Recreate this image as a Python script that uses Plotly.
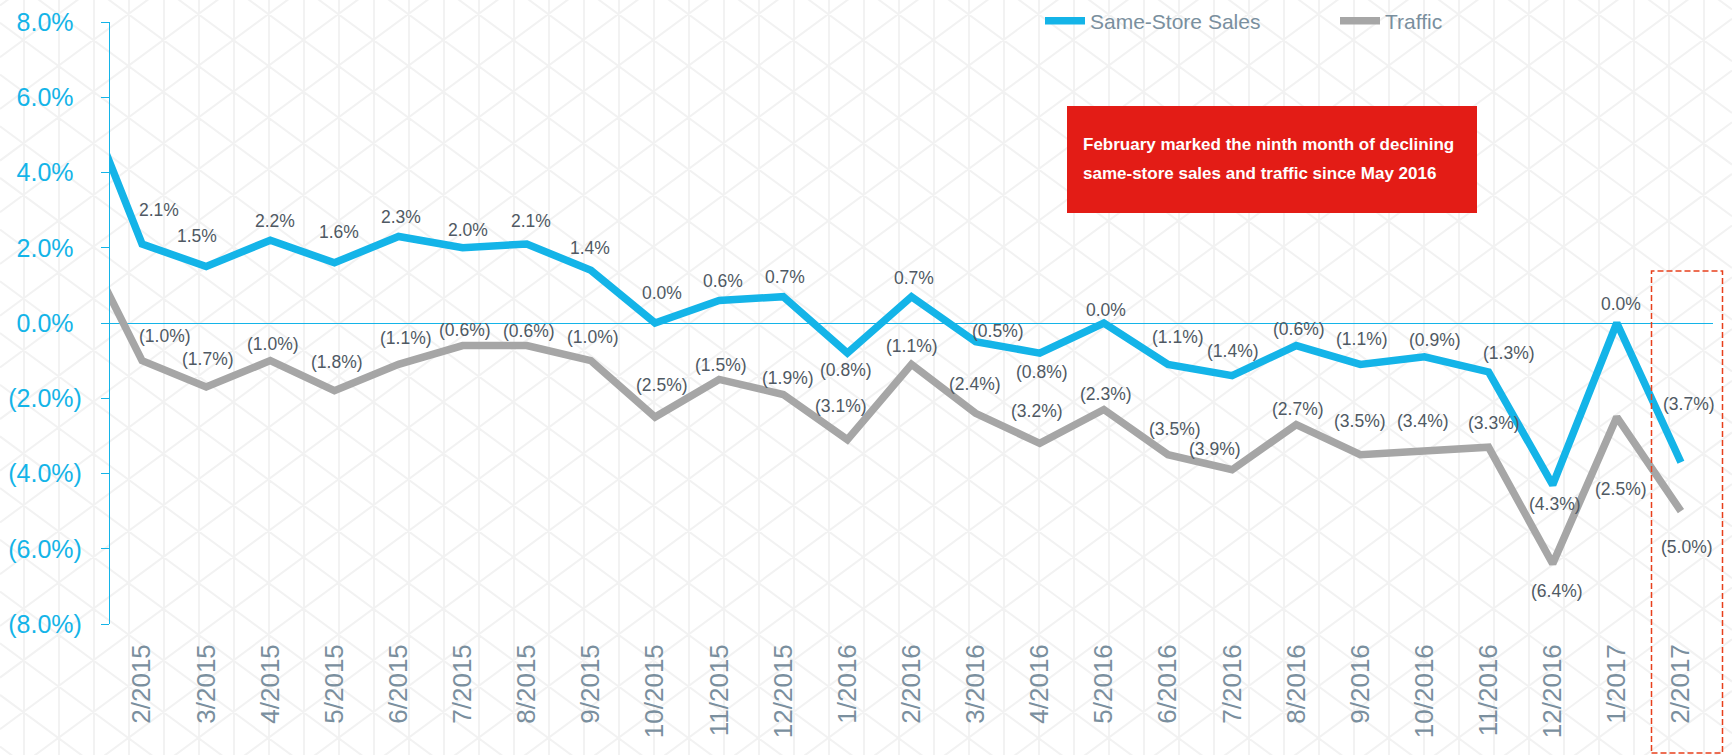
import plotly.graph_objects as go

# ---------------- data ----------------
months = ["1/2015", "2/2015", "3/2015", "4/2015", "5/2015", "6/2015", "7/2015", "8/2015",
          "9/2015", "10/2015", "11/2015", "12/2015", "1/2016", "2/2016", "3/2016", "4/2016",
          "5/2016", "6/2016", "7/2016", "8/2016", "9/2016", "10/2016", "11/2016", "12/2016",
          "1/2017", "2/2017"]
same_store_sales = [6.4, 2.1, 1.5, 2.2, 1.6, 2.3, 2.0, 2.1, 1.4, 0.0, 0.6, 0.7, -0.8, 0.7,
                    -0.5, -0.8, 0.0, -1.1, -1.4, -0.6, -1.1, -0.9, -1.3, -4.3, 0.0, -3.7]
traffic = [2.4, -1.0, -1.7, -1.0, -1.8, -1.1, -0.6, -0.6, -1.0, -2.5, -1.5, -1.9, -3.1, -1.1,
           -2.4, -3.2, -2.3, -3.5, -3.9, -2.7, -3.5, -3.4, -3.3, -6.4, -2.5, -5.0]
y_ticks = [8, 6, 4, 2, 0, -2, -4, -6, -8]
note_lines = ["February marked the ninth month of declining",
              "same-store sales and traffic since May 2016"]

# label offsets in pixels (for months 2/2015 .. 2/2017)
sales_dx = [17, -9, 5, 5, 2, 5, 4, -1, 7, 4, 2, -1, 2, 22, 2, 2, 10, 1, 3, 2, 11, 20, 2, 4, 8]
sales_dy = [31, 28, 16, 28, 16, 15, 20, 19, 27, 16, 17, -20, 16, 8, -22, 10, 24, 22, 14, 22, 14, 16, -22, 16, 55]
traf_dx = [23, 2, 3, 3, 7, 2, 2, 2, 7, 2, 5, -6, 0, -1, -3, 2, 7, -17, 2, 0, -1, 5, 4, 4, 6]
traf_dy = [22, 25, 14, 26, 23, 13, 12, 21, 29, 11, 13, 31, 15, 26, 29, 13, 23, 18, 13, 31, 27, 21, -30, -75, -39]

BLUE = "#14b4e8"
GRAY = "#a6a6a6"
LABEL = "#4f5963"
SLATE = "#7a8f9e"
FONT = "Liberation Sans, Arial, sans-serif"

W, H = 1732, 755
ML, MR, MT, MB = 110, 19, 22, 131
PW, PH = W - ML - MR, H - MT - MB


def fmt(v):
    if v < 0:
        return "(%.1f%%)" % abs(v)
    return "%.1f%%" % v


def px(x, y):
    return (x - ML) / PW, (H - MB - y) / PH


fig = go.Figure()
fig.add_trace(go.Scatter(x=months, y=same_store_sales, mode="lines", name="Same-Store Sales",
                         line=dict(color=BLUE, width=7.5), hoverinfo="skip"))
fig.add_trace(go.Scatter(x=months, y=traffic, mode="lines", name="Traffic",
                         line=dict(color=GRAY, width=7.5), hoverinfo="skip"))

annotations = []
for i in range(1, len(months)):
    annotations.append(dict(x=months[i], y=same_store_sales[i], text=fmt(same_store_sales[i]),
                            xref="x", yref="y", showarrow=False,
                            xshift=sales_dx[i - 1], yshift=sales_dy[i - 1] + 3,
                            font=dict(family=FONT, size=17.5, color=LABEL)))
    annotations.append(dict(x=months[i], y=traffic[i], text=fmt(traffic[i]),
                            xref="x", yref="y", showarrow=False,
                            xshift=traf_dx[i - 1], yshift=traf_dy[i - 1] + 3,
                            font=dict(family=FONT, size=17.5, color=LABEL)))

# red callout text
for j, (line, yy) in enumerate(zip(note_lines, [144, 173])):
    ax, ay = px(1081, yy)
    annotations.append(dict(x=ax, y=ay, xref="paper", yref="paper", text="<b>%s</b>" % line,
                            showarrow=False, xanchor="left", yanchor="middle",
                            font=dict(family=FONT, size=17, color="white")))

# background triangular lattice pattern
segs = []
xs = 24
while xs < W + 5:
    a = px(xs, -5)
    b = px(xs, H + 5)
    segs.append("M%.5f,%.5f L%.5f,%.5f" % (a[0], a[1], b[0], b[1]))
    xs += 35
P = 51.7
m = (P / 2) / 35.0
for s in (1, -1):
    for n in range(-45, 45):
        y0 = 40 + s * m * (0 - 723.3) + n * P
        y1 = 40 + s * m * (W - 723.3) + n * P
        if max(y0, y1) < -5 or min(y0, y1) > H + 5:
            continue
        a = px(0, y0)
        b = px(W, y1)
        segs.append("M%.5f,%.5f L%.5f,%.5f" % (a[0], a[1], b[0], b[1]))

shapes = [
    dict(type="path", xref="paper", yref="paper", path=" ".join(segs), layer="below",
         line=dict(color="#f2f2f2", width=2)),
]
bx0, by0 = px(1067, 213)
bx1, by1 = px(1477, 106)
shapes.append(dict(type="rect", xref="paper", yref="paper", x0=bx0, y0=by0, x1=bx1, y1=by1,
                   fillcolor="#e31c16", line=dict(width=0), layer="above"))
dx0, dy0 = px(1651.5, 753)
dx1, dy1 = px(1722.5, 271)
shapes.append(dict(type="rect", xref="paper", yref="paper", x0=dx0, y0=dy0, x1=dx1, y1=dy1,
                   fillcolor="rgba(0,0,0,0)", line=dict(color="#e8401c", width=1.5, dash="6px,3px"),
                   layer="above"))

tick_text = []
for v in y_ticks:
    if v < 0:
        tick_text.append(fmt(v))
    else:
        tick_text.append(fmt(v) + "<span style='color:rgba(0,0,0,0)'>)</span>")

lx, ly = px(1040, 21)
fig.update_layout(
    width=W, height=H,
    margin=dict(l=ML, r=MR, t=MT, b=MB, pad=0, autoexpand=False),
    paper_bgcolor="white", plot_bgcolor="rgba(0,0,0,0)",
    font=dict(family=FONT),
    showlegend=True,
    legend=dict(orientation="h", x=lx, y=ly, xanchor="left", yanchor="middle",
                font=dict(family=FONT, size=21, color=SLATE), bgcolor="rgba(0,0,0,0)",
                entrywidth=240, entrywidthmode="pixels", itemwidth=40),
    xaxis=dict(type="category", range=[0.5, 25.5], showgrid=False, zeroline=False,
               showline=False, ticks="", tickangle=-90, ticklabelstandoff=14,
               tickfont=dict(family=FONT, size=26, color=SLATE), fixedrange=True),
    yaxis=dict(range=[-8, 8], tickmode="array", tickvals=y_ticks, ticktext=tick_text,
               showgrid=False, zeroline=True, zerolinecolor=BLUE, zerolinewidth=1.2,
               showline=True, linecolor=BLUE, linewidth=1.2, ticks="outside", ticklen=8,
               tickcolor=BLUE, tickwidth=1.2, ticklabelstandoff=14,
               tickfont=dict(family=FONT, size=25, color=BLUE), fixedrange=True),
    shapes=shapes,
    annotations=annotations,
)

fig.write_html("out.html", config={"displayModeBar": False},
               post_script="document.body.style.margin='0';document.body.style.overflow='hidden';")
